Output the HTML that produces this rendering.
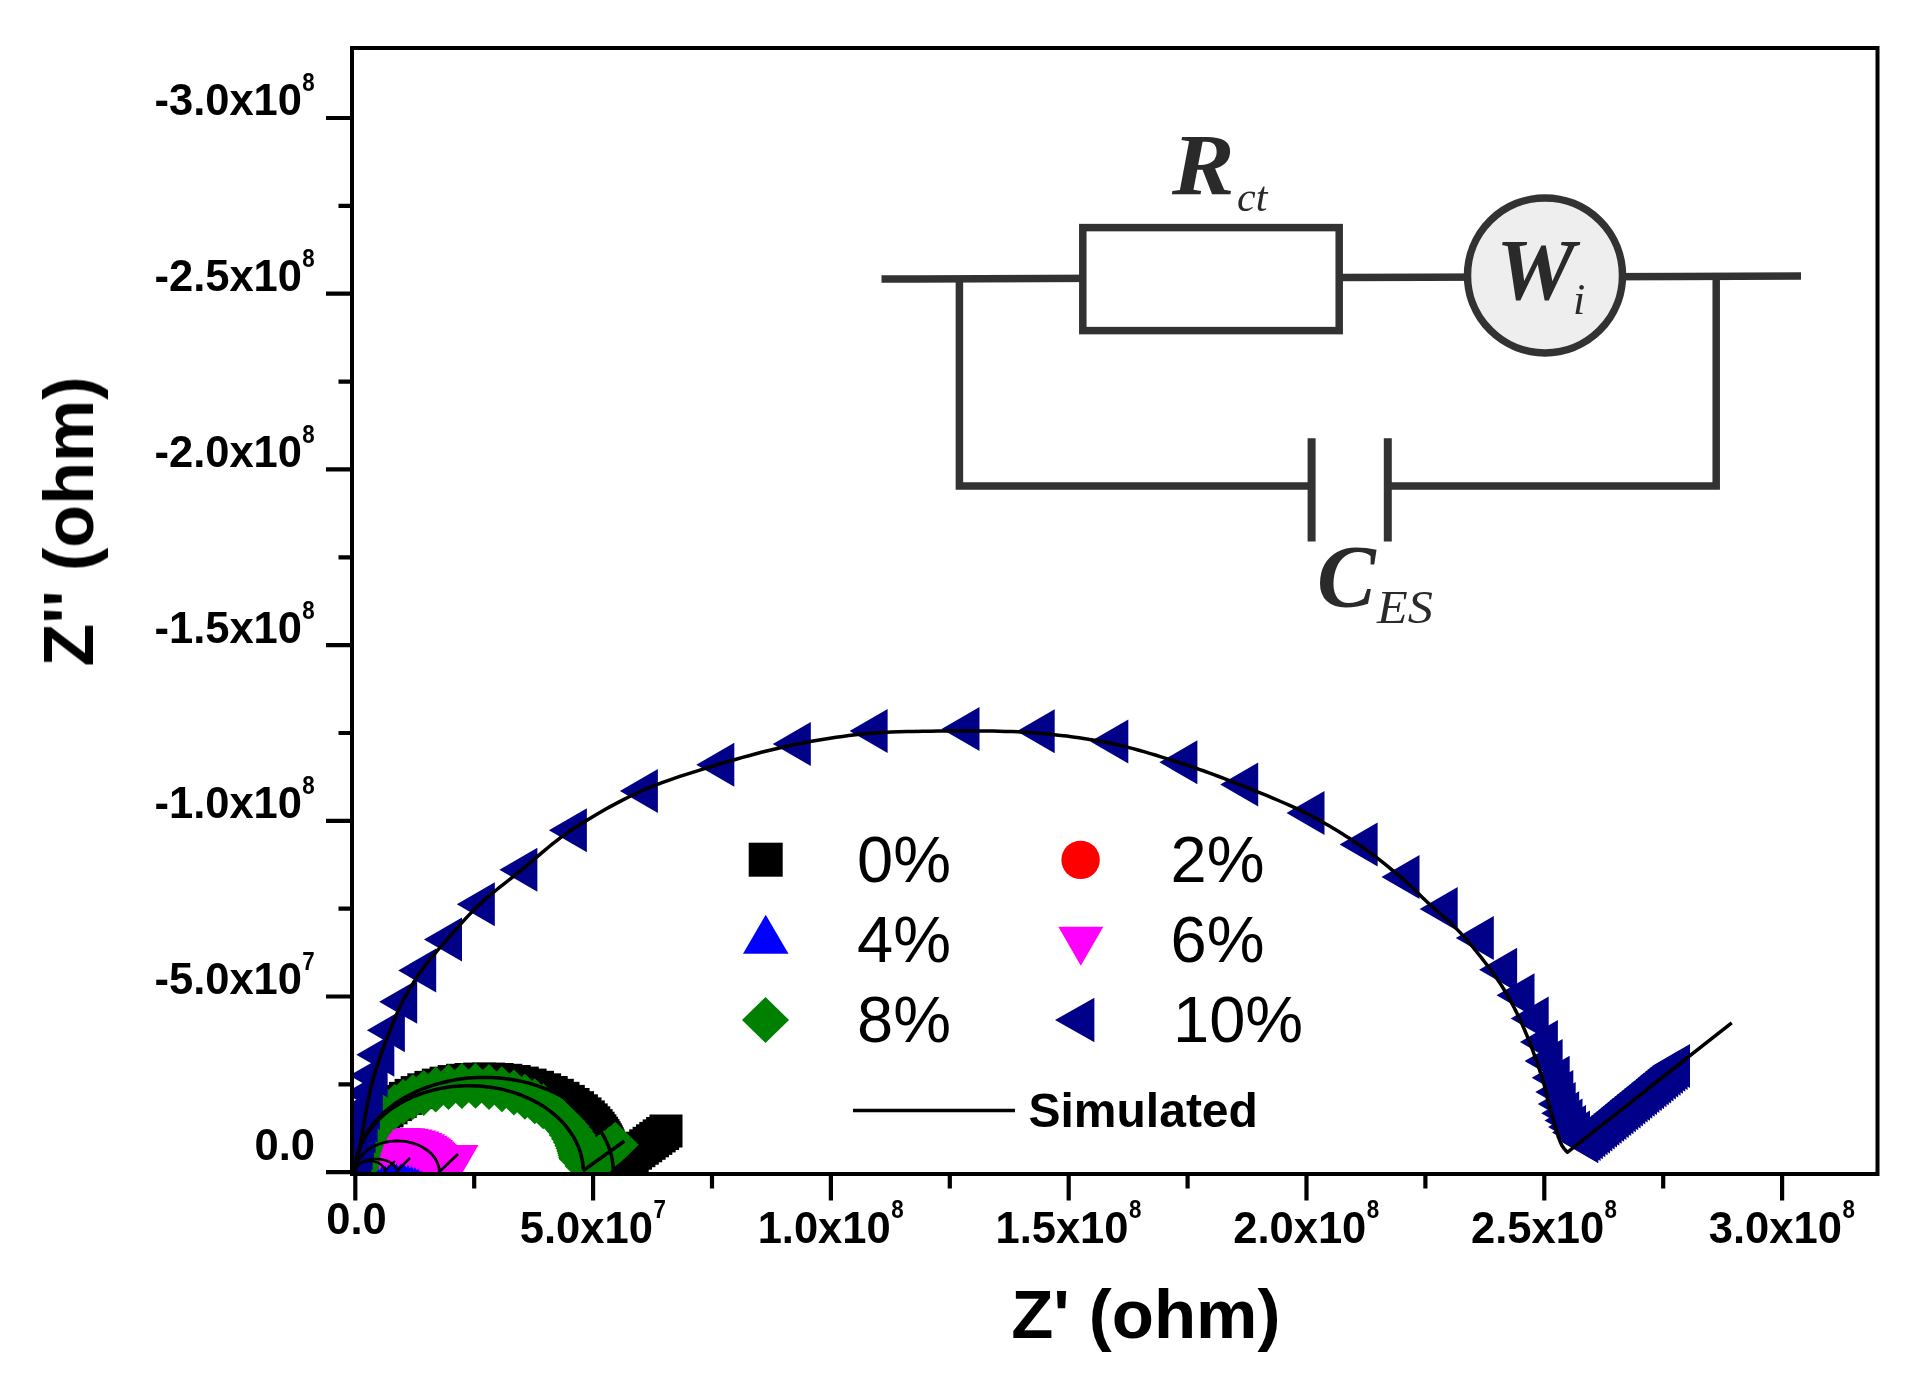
<!DOCTYPE html><html><head><meta charset="utf-8"><title>Nyquist plot</title><style>html,body{margin:0;padding:0;background:#fff}svg{display:block}</style></head><body><svg width="1923" height="1391" viewBox="0 0 1923 1391">
<defs><clipPath id="pc"><rect x="352" y="48" width="1525.5" height="1126"/></clipPath><filter id="soft" x="0" y="0" width="100%" height="100%" filterUnits="userSpaceOnUse"><feGaussianBlur stdDeviation="0.75"/></filter></defs>
<rect width="1923" height="1391" fill="#fff"/>
<g filter="url(#soft)">
<g clip-path="url(#pc)">
<g><rect x="338.9" y="1152.4" width="33" height="33" fill="#000"/><rect x="338.9" y="1152.2" width="33" height="33" fill="#000"/><rect x="338.9" y="1152.0" width="33" height="33" fill="#000"/><rect x="338.9" y="1151.7" width="33" height="33" fill="#000"/><rect x="338.9" y="1151.4" width="33" height="33" fill="#000"/><rect x="338.9" y="1151.2" width="33" height="33" fill="#000"/><rect x="339.0" y="1150.9" width="33" height="33" fill="#000"/><rect x="339.0" y="1150.5" width="33" height="33" fill="#000"/><rect x="339.0" y="1150.2" width="33" height="33" fill="#000"/><rect x="339.0" y="1149.8" width="33" height="33" fill="#000"/><rect x="339.1" y="1149.4" width="33" height="33" fill="#000"/><rect x="339.1" y="1149.0" width="33" height="33" fill="#000"/><rect x="339.2" y="1148.5" width="33" height="33" fill="#000"/><rect x="339.2" y="1148.0" width="33" height="33" fill="#000"/><rect x="339.3" y="1147.5" width="33" height="33" fill="#000"/><rect x="339.3" y="1147.0" width="33" height="33" fill="#000"/><rect x="339.4" y="1146.4" width="33" height="33" fill="#000"/><rect x="339.5" y="1145.7" width="33" height="33" fill="#000"/><rect x="339.6" y="1145.1" width="33" height="33" fill="#000"/><rect x="339.7" y="1144.3" width="33" height="33" fill="#000"/><rect x="339.9" y="1143.6" width="33" height="33" fill="#000"/><rect x="340.0" y="1142.7" width="33" height="33" fill="#000"/><rect x="340.2" y="1141.8" width="33" height="33" fill="#000"/><rect x="340.4" y="1140.9" width="33" height="33" fill="#000"/><rect x="340.6" y="1139.9" width="33" height="33" fill="#000"/><rect x="340.9" y="1138.8" width="33" height="33" fill="#000"/><rect x="341.2" y="1137.7" width="33" height="33" fill="#000"/><rect x="341.5" y="1136.4" width="33" height="33" fill="#000"/><rect x="341.9" y="1135.1" width="33" height="33" fill="#000"/><rect x="342.4" y="1133.8" width="33" height="33" fill="#000"/><rect x="342.9" y="1132.3" width="33" height="33" fill="#000"/><rect x="343.5" y="1130.7" width="33" height="33" fill="#000"/><rect x="344.1" y="1129.0" width="33" height="33" fill="#000"/><rect x="344.9" y="1127.3" width="33" height="33" fill="#000"/><rect x="345.7" y="1125.4" width="33" height="33" fill="#000"/><rect x="346.7" y="1123.4" width="33" height="33" fill="#000"/><rect x="347.8" y="1121.3" width="33" height="33" fill="#000"/><rect x="349.1" y="1119.1" width="33" height="33" fill="#000"/><rect x="350.5" y="1116.8" width="33" height="33" fill="#000"/><rect x="352.1" y="1114.4" width="33" height="33" fill="#000"/><rect x="353.9" y="1111.8" width="33" height="33" fill="#000"/><rect x="356.0" y="1109.1" width="33" height="33" fill="#000"/><rect x="358.3" y="1106.4" width="33" height="33" fill="#000"/><rect x="360.9" y="1103.5" width="33" height="33" fill="#000"/><rect x="363.7" y="1100.5" width="33" height="33" fill="#000"/><rect x="367.0" y="1097.5" width="33" height="33" fill="#000"/><rect x="370.5" y="1094.4" width="33" height="33" fill="#000"/><rect x="374.5" y="1091.3" width="33" height="33" fill="#000"/><rect x="378.9" y="1088.1" width="33" height="33" fill="#000"/><rect x="383.7" y="1085.0" width="33" height="33" fill="#000"/><rect x="388.9" y="1081.9" width="33" height="33" fill="#000"/><rect x="394.6" y="1078.9" width="33" height="33" fill="#000"/><rect x="400.7" y="1076.1" width="33" height="33" fill="#000"/><rect x="407.3" y="1073.3" width="33" height="33" fill="#000"/><rect x="414.4" y="1070.9" width="33" height="33" fill="#000"/><rect x="421.8" y="1068.6" width="33" height="33" fill="#000"/><rect x="429.6" y="1066.7" width="33" height="33" fill="#000"/><rect x="437.7" y="1065.1" width="33" height="33" fill="#000"/><rect x="446.1" y="1063.8" width="33" height="33" fill="#000"/><rect x="454.6" y="1063.0" width="33" height="33" fill="#000"/><rect x="463.3" y="1062.6" width="33" height="33" fill="#000"/><rect x="472.0" y="1062.6" width="33" height="33" fill="#000"/><rect x="480.7" y="1063.0" width="33" height="33" fill="#000"/><rect x="489.3" y="1063.8" width="33" height="33" fill="#000"/><rect x="497.7" y="1065.0" width="33" height="33" fill="#000"/><rect x="505.8" y="1066.6" width="33" height="33" fill="#000"/><rect x="513.6" y="1068.6" width="33" height="33" fill="#000"/><rect x="521.0" y="1070.8" width="33" height="33" fill="#000"/><rect x="528.1" y="1073.3" width="33" height="33" fill="#000"/><rect x="534.7" y="1076.0" width="33" height="33" fill="#000"/><rect x="540.8" y="1078.8" width="33" height="33" fill="#000"/><rect x="546.5" y="1081.8" width="33" height="33" fill="#000"/><rect x="551.8" y="1084.9" width="33" height="33" fill="#000"/><rect x="556.6" y="1088.0" width="33" height="33" fill="#000"/><rect x="561.0" y="1091.2" width="33" height="33" fill="#000"/><rect x="564.9" y="1094.3" width="33" height="33" fill="#000"/><rect x="568.5" y="1097.4" width="33" height="33" fill="#000"/><rect x="571.8" y="1100.4" width="33" height="33" fill="#000"/><rect x="574.7" y="1103.4" width="33" height="33" fill="#000"/><rect x="577.3" y="1106.3" width="33" height="33" fill="#000"/><rect x="579.6" y="1109.1" width="33" height="33" fill="#000"/><rect x="581.6" y="1111.7" width="33" height="33" fill="#000"/><rect x="583.4" y="1114.3" width="33" height="33" fill="#000"/><rect x="585.1" y="1116.7" width="33" height="33" fill="#000"/><rect x="586.5" y="1119.1" width="33" height="33" fill="#000"/><rect x="587.7" y="1121.3" width="33" height="33" fill="#000"/><rect x="588.9" y="1123.4" width="33" height="33" fill="#000"/><rect x="589.8" y="1125.3" width="33" height="33" fill="#000"/><rect x="590.7" y="1127.2" width="33" height="33" fill="#000"/><rect x="591.4" y="1129.0" width="33" height="33" fill="#000"/><rect x="592.1" y="1130.7" width="33" height="33" fill="#000"/><rect x="592.7" y="1132.2" width="33" height="33" fill="#000"/><rect x="593.2" y="1133.7" width="33" height="33" fill="#000"/><rect x="593.7" y="1135.1" width="33" height="33" fill="#000"/><rect x="594.1" y="1136.4" width="33" height="33" fill="#000"/><rect x="594.4" y="1137.6" width="33" height="33" fill="#000"/><rect x="594.7" y="1138.8" width="33" height="33" fill="#000"/><rect x="605.5" y="1146.5" width="33" height="33" fill="#000"/><rect x="608.9" y="1144.0" width="33" height="33" fill="#000"/><rect x="612.3" y="1141.6" width="33" height="33" fill="#000"/><rect x="615.7" y="1139.1" width="33" height="33" fill="#000"/><rect x="619.0" y="1136.7" width="33" height="33" fill="#000"/><rect x="622.4" y="1134.2" width="33" height="33" fill="#000"/><rect x="625.8" y="1131.7" width="33" height="33" fill="#000"/><rect x="629.2" y="1129.3" width="33" height="33" fill="#000"/><rect x="632.6" y="1126.8" width="33" height="33" fill="#000"/><rect x="636.0" y="1124.3" width="33" height="33" fill="#000"/><rect x="639.3" y="1121.9" width="33" height="33" fill="#000"/><rect x="642.7" y="1119.4" width="33" height="33" fill="#000"/><rect x="646.1" y="1117.0" width="33" height="33" fill="#000"/><rect x="649.5" y="1114.5" width="33" height="33" fill="#000"/></g>
<g><circle cx="355.0" cy="1171.8" r="19" fill="#f00"/><circle cx="355.0" cy="1171.7" r="19" fill="#f00"/><circle cx="355.0" cy="1171.7" r="19" fill="#f00"/><circle cx="355.0" cy="1171.6" r="19" fill="#f00"/><circle cx="355.1" cy="1171.4" r="19" fill="#f00"/><circle cx="355.1" cy="1171.3" r="19" fill="#f00"/><circle cx="355.2" cy="1171.0" r="19" fill="#f00"/><circle cx="355.3" cy="1170.8" r="19" fill="#f00"/><circle cx="355.5" cy="1170.4" r="19" fill="#f00"/><circle cx="355.8" cy="1170.0" r="19" fill="#f00"/><circle cx="356.3" cy="1169.5" r="19" fill="#f00"/><circle cx="357.0" cy="1169.0" r="19" fill="#f00"/><circle cx="358.0" cy="1168.5" r="19" fill="#f00"/><circle cx="359.4" cy="1168.1" r="19" fill="#f00"/><circle cx="360.9" cy="1168.0" r="19" fill="#f00"/><circle cx="362.5" cy="1168.1" r="19" fill="#f00"/><circle cx="363.8" cy="1168.5" r="19" fill="#f00"/><circle cx="364.9" cy="1169.0" r="19" fill="#f00"/><circle cx="365.7" cy="1169.5" r="19" fill="#f00"/><circle cx="366.2" cy="1170.0" r="19" fill="#f00"/><circle cx="366.5" cy="1170.4" r="19" fill="#f00"/><circle cx="366.7" cy="1170.7" r="19" fill="#f00"/><circle cx="366.8" cy="1171.0" r="19" fill="#f00"/><circle cx="367.0" cy="1171.0" r="19" fill="#f00"/><circle cx="368.5" cy="1169.5" r="19" fill="#f00"/><circle cx="370.0" cy="1168.0" r="19" fill="#f00"/></g>
<g><path d="M332.3 1184.7L377.8 1184.7L355.0 1145.7Z" fill="#00f"/><path d="M332.3 1184.6L377.8 1184.6L355.0 1145.6Z" fill="#00f"/><path d="M332.3 1184.6L377.8 1184.6L355.1 1145.6Z" fill="#00f"/><path d="M332.3 1184.5L377.8 1184.5L355.1 1145.5Z" fill="#00f"/><path d="M332.3 1184.5L377.8 1184.5L355.1 1145.5Z" fill="#00f"/><path d="M332.3 1184.4L377.8 1184.4L355.1 1145.4Z" fill="#00f"/><path d="M332.4 1184.4L377.9 1184.4L355.1 1145.4Z" fill="#00f"/><path d="M332.4 1184.3L377.9 1184.3L355.1 1145.3Z" fill="#00f"/><path d="M332.4 1184.3L377.9 1184.3L355.2 1145.3Z" fill="#00f"/><path d="M332.5 1184.2L378.0 1184.2L355.2 1145.2Z" fill="#00f"/><path d="M332.5 1184.1L378.0 1184.1L355.2 1145.1Z" fill="#00f"/><path d="M332.5 1184.0L378.0 1184.0L355.3 1145.0Z" fill="#00f"/><path d="M332.6 1183.9L378.1 1183.9L355.4 1144.9Z" fill="#00f"/><path d="M332.7 1183.8L378.2 1183.8L355.4 1144.8Z" fill="#00f"/><path d="M332.8 1183.7L378.3 1183.7L355.5 1144.7Z" fill="#00f"/><path d="M332.9 1183.6L378.4 1183.6L355.6 1144.6Z" fill="#00f"/><path d="M333.0 1183.4L378.5 1183.4L355.8 1144.4Z" fill="#00f"/><path d="M333.2 1183.3L378.7 1183.3L355.9 1144.3Z" fill="#00f"/><path d="M333.3 1183.1L378.8 1183.1L356.1 1144.1Z" fill="#00f"/><path d="M333.6 1182.9L379.1 1182.9L356.3 1143.9Z" fill="#00f"/><path d="M333.8 1182.7L379.3 1182.7L356.6 1143.7Z" fill="#00f"/><path d="M334.2 1182.5L379.7 1182.5L356.9 1143.5Z" fill="#00f"/><path d="M334.6 1182.3L380.1 1182.3L357.3 1143.3Z" fill="#00f"/><path d="M335.0 1182.0L380.5 1182.0L357.8 1143.0Z" fill="#00f"/><path d="M335.6 1181.7L381.1 1181.7L358.3 1142.7Z" fill="#00f"/><path d="M336.2 1181.5L381.7 1181.5L359.0 1142.5Z" fill="#00f"/><path d="M337.0 1181.2L382.5 1181.2L359.7 1142.2Z" fill="#00f"/><path d="M337.9 1180.9L383.4 1180.9L360.6 1141.9Z" fill="#00f"/><path d="M338.9 1180.5L384.4 1180.5L361.7 1141.5Z" fill="#00f"/><path d="M340.1 1180.2L385.6 1180.2L362.9 1141.2Z" fill="#00f"/><path d="M341.5 1179.9L387.0 1179.9L364.3 1140.9Z" fill="#00f"/><path d="M343.1 1179.5L388.6 1179.5L365.9 1140.5Z" fill="#00f"/><path d="M344.9 1179.2L390.4 1179.2L367.6 1140.2Z" fill="#00f"/><path d="M346.9 1178.9L392.4 1178.9L369.6 1139.9Z" fill="#00f"/><path d="M349.1 1178.6L394.6 1178.6L371.8 1139.6Z" fill="#00f"/><path d="M351.4 1178.4L396.9 1178.4L374.2 1139.4Z" fill="#00f"/><path d="M353.9 1178.2L399.4 1178.2L376.7 1139.2Z" fill="#00f"/><path d="M356.6 1178.1L402.1 1178.1L379.3 1139.1Z" fill="#00f"/><path d="M359.3 1178.0L404.8 1178.0L382.1 1139.0Z" fill="#00f"/><path d="M362.1 1178.0L407.6 1178.0L384.8 1139.0Z" fill="#00f"/><path d="M364.8 1178.1L410.3 1178.1L387.6 1139.1Z" fill="#00f"/><path d="M367.5 1178.2L413.0 1178.2L390.2 1139.2Z" fill="#00f"/><path d="M370.1 1178.3L415.6 1178.3L392.8 1139.3Z" fill="#00f"/><path d="M372.5 1178.5L418.0 1178.5L395.3 1139.5Z" fill="#00f"/><path d="M374.8 1178.8L420.3 1178.8L397.5 1139.8Z" fill="#00f"/><path d="M376.8 1179.1L422.3 1179.1L399.6 1140.1Z" fill="#00f"/><path d="M378.7 1179.4L424.2 1179.4L401.4 1140.4Z" fill="#00f"/><path d="M380.4 1179.7L425.9 1179.7L403.1 1140.7Z" fill="#00f"/><path d="M381.8 1180.1L427.3 1180.1L404.6 1141.1Z" fill="#00f"/><path d="M383.1 1180.4L428.6 1180.4L405.9 1141.4Z" fill="#00f"/><path d="M384.2 1180.7L429.7 1180.7L407.0 1141.7Z" fill="#00f"/><path d="M385.2 1181.0L430.7 1181.0L407.9 1142.0Z" fill="#00f"/><path d="M386.0 1181.3L431.5 1181.3L408.7 1142.3Z" fill="#00f"/><path d="M386.7 1181.6L432.2 1181.6L409.4 1142.6Z" fill="#00f"/><path d="M387.3 1181.9L432.8 1181.9L410.0 1142.9Z" fill="#00f"/><path d="M387.8 1182.2L433.3 1182.2L410.5 1143.2Z" fill="#00f"/><path d="M388.2 1182.4L433.7 1182.4L410.9 1143.4Z" fill="#00f"/><path d="M388.5 1182.6L434.0 1182.6L411.3 1143.6Z" fill="#00f"/><path d="M388.8 1182.8L434.3 1182.8L411.6 1143.8Z" fill="#00f"/><path d="M389.1 1183.0L434.6 1183.0L411.8 1144.0Z" fill="#00f"/><path d="M389.3 1183.2L434.8 1183.2L412.0 1144.2Z" fill="#00f"/><path d="M389.4 1183.4L434.9 1183.4L412.2 1144.4Z" fill="#00f"/><path d="M389.6 1183.5L435.1 1183.5L412.3 1144.5Z" fill="#00f"/><path d="M390.2 1184.0L435.8 1184.0L413.0 1145.0Z" fill="#00f"/><path d="M393.2 1182.3L438.8 1182.3L416.0 1143.3Z" fill="#00f"/><path d="M396.2 1180.7L441.8 1180.7L419.0 1141.7Z" fill="#00f"/><path d="M399.2 1179.0L444.8 1179.0L422.0 1140.0Z" fill="#00f"/></g>
<g><path d="M332.9 1157.5L377.9 1157.5L355.4 1196.5Z" fill="#f0f"/><path d="M332.9 1157.3L377.9 1157.3L355.4 1196.3Z" fill="#f0f"/><path d="M332.9 1157.1L377.9 1157.1L355.4 1196.1Z" fill="#f0f"/><path d="M332.9 1156.9L377.9 1156.9L355.4 1195.9Z" fill="#f0f"/><path d="M332.9 1156.7L377.9 1156.7L355.4 1195.7Z" fill="#f0f"/><path d="M332.9 1156.5L377.9 1156.5L355.4 1195.5Z" fill="#f0f"/><path d="M333.0 1156.3L378.0 1156.3L355.5 1195.3Z" fill="#f0f"/><path d="M333.0 1156.0L378.0 1156.0L355.5 1195.0Z" fill="#f0f"/><path d="M333.0 1155.7L378.0 1155.7L355.5 1194.7Z" fill="#f0f"/><path d="M333.1 1155.4L378.1 1155.4L355.6 1194.4Z" fill="#f0f"/><path d="M333.2 1155.0L378.2 1155.0L355.7 1194.0Z" fill="#f0f"/><path d="M333.2 1154.6L378.2 1154.6L355.7 1193.6Z" fill="#f0f"/><path d="M333.3 1154.2L378.3 1154.2L355.8 1193.2Z" fill="#f0f"/><path d="M333.4 1153.7L378.4 1153.7L355.9 1192.7Z" fill="#f0f"/><path d="M333.6 1153.2L378.6 1153.2L356.1 1192.2Z" fill="#f0f"/><path d="M333.7 1152.6L378.7 1152.6L356.2 1191.6Z" fill="#f0f"/><path d="M333.9 1152.0L378.9 1152.0L356.4 1191.0Z" fill="#f0f"/><path d="M334.1 1151.3L379.1 1151.3L356.6 1190.3Z" fill="#f0f"/><path d="M334.4 1150.5L379.4 1150.5L356.9 1189.5Z" fill="#f0f"/><path d="M334.7 1149.7L379.7 1149.7L357.2 1188.7Z" fill="#f0f"/><path d="M335.1 1148.9L380.1 1148.9L357.6 1187.9Z" fill="#f0f"/><path d="M335.6 1147.9L380.6 1147.9L358.1 1186.9Z" fill="#f0f"/><path d="M336.1 1146.9L381.1 1146.9L358.6 1185.9Z" fill="#f0f"/><path d="M336.8 1145.8L381.8 1145.8L359.3 1184.8Z" fill="#f0f"/><path d="M337.6 1144.6L382.6 1144.6L360.1 1183.6Z" fill="#f0f"/><path d="M338.5 1143.4L383.5 1143.4L361.0 1182.4Z" fill="#f0f"/><path d="M339.6 1142.0L384.6 1142.0L362.1 1181.0Z" fill="#f0f"/><path d="M340.9 1140.7L385.9 1140.7L363.4 1179.7Z" fill="#f0f"/><path d="M342.5 1139.2L387.5 1139.2L365.0 1178.2Z" fill="#f0f"/><path d="M344.2 1137.8L389.2 1137.8L366.7 1176.8Z" fill="#f0f"/><path d="M346.2 1136.3L391.2 1136.3L368.7 1175.3Z" fill="#f0f"/><path d="M348.5 1134.8L393.5 1134.8L371.0 1173.8Z" fill="#f0f"/><path d="M351.1 1133.4L396.1 1133.4L373.6 1172.4Z" fill="#f0f"/><path d="M354.0 1132.1L399.0 1132.1L376.5 1171.1Z" fill="#f0f"/><path d="M357.1 1130.9L402.1 1130.9L379.6 1169.9Z" fill="#f0f"/><path d="M360.6 1129.8L405.6 1129.8L383.1 1168.8Z" fill="#f0f"/><path d="M364.2 1129.0L409.2 1129.0L386.7 1168.0Z" fill="#f0f"/><path d="M368.0 1128.4L413.0 1128.4L390.5 1167.4Z" fill="#f0f"/><path d="M372.0 1128.1L417.0 1128.1L394.5 1167.1Z" fill="#f0f"/><path d="M376.0 1128.0L421.0 1128.0L398.5 1167.0Z" fill="#f0f"/><path d="M380.0 1128.2L425.0 1128.2L402.5 1167.2Z" fill="#f0f"/><path d="M383.8 1128.7L428.8 1128.7L406.3 1167.7Z" fill="#f0f"/><path d="M387.6 1129.5L432.6 1129.5L410.1 1168.5Z" fill="#f0f"/><path d="M391.1 1130.4L436.1 1130.4L413.6 1169.4Z" fill="#f0f"/><path d="M394.4 1131.6L439.4 1131.6L416.9 1170.6Z" fill="#f0f"/><path d="M397.4 1132.9L442.4 1132.9L419.9 1171.9Z" fill="#f0f"/><path d="M400.1 1134.2L445.1 1134.2L422.6 1173.2Z" fill="#f0f"/><path d="M402.5 1135.7L447.5 1135.7L425.0 1174.7Z" fill="#f0f"/><path d="M404.6 1137.2L449.6 1137.2L427.1 1176.2Z" fill="#f0f"/><path d="M406.5 1138.6L451.5 1138.6L429.0 1177.6Z" fill="#f0f"/><path d="M408.1 1140.1L453.1 1140.1L430.6 1179.1Z" fill="#f0f"/><path d="M409.4 1141.5L454.4 1141.5L431.9 1180.5Z" fill="#f0f"/><path d="M410.6 1142.8L455.6 1142.8L433.1 1181.8Z" fill="#f0f"/><path d="M411.6 1144.1L456.6 1144.1L434.1 1183.1Z" fill="#f0f"/><path d="M412.5 1145.3L457.5 1145.3L435.0 1184.3Z" fill="#f0f"/><path d="M413.2 1146.4L458.2 1146.4L435.7 1185.4Z" fill="#f0f"/><path d="M413.8 1147.5L458.8 1147.5L436.3 1186.5Z" fill="#f0f"/><path d="M414.3 1148.5L459.3 1148.5L436.8 1187.5Z" fill="#f0f"/><path d="M414.7 1149.4L459.7 1149.4L437.2 1188.4Z" fill="#f0f"/><path d="M415.1 1150.2L460.1 1150.2L437.6 1189.2Z" fill="#f0f"/><path d="M415.4 1151.0L460.4 1151.0L437.9 1190.0Z" fill="#f0f"/><path d="M415.6 1151.7L460.6 1151.7L438.1 1190.7Z" fill="#f0f"/><path d="M415.8 1152.3L460.8 1152.3L438.3 1191.3Z" fill="#f0f"/><path d="M417.5 1159.0L462.5 1159.0L440.0 1198.0Z" fill="#f0f"/><path d="M419.8 1157.0L464.8 1157.0L442.3 1196.0Z" fill="#f0f"/><path d="M422.1 1155.0L467.1 1155.0L444.6 1194.0Z" fill="#f0f"/><path d="M424.4 1153.0L469.4 1153.0L446.9 1192.0Z" fill="#f0f"/><path d="M426.6 1151.0L471.6 1151.0L449.1 1190.0Z" fill="#f0f"/><path d="M428.9 1149.0L473.9 1149.0L451.4 1188.0Z" fill="#f0f"/><path d="M431.2 1147.0L476.2 1147.0L453.7 1186.0Z" fill="#f0f"/><path d="M433.5 1145.0L478.5 1145.0L456.0 1184.0Z" fill="#f0f"/></g>
<g><path d="M331.9 1169.2L355.4 1146.2L378.9 1169.2L355.4 1192.2Z" fill="#008000"/><path d="M331.9 1168.9L355.4 1145.9L378.9 1168.9L355.4 1191.9Z" fill="#008000"/><path d="M331.9 1168.5L355.4 1145.5L378.9 1168.5L355.4 1191.5Z" fill="#008000"/><path d="M331.9 1168.0L355.4 1145.0L378.9 1168.0L355.4 1191.0Z" fill="#008000"/><path d="M332.0 1167.5L355.5 1144.5L379.0 1167.5L355.5 1190.5Z" fill="#008000"/><path d="M332.0 1167.0L355.5 1144.0L379.0 1167.0L355.5 1190.0Z" fill="#008000"/><path d="M332.0 1166.3L355.5 1143.3L379.0 1166.3L355.5 1189.3Z" fill="#008000"/><path d="M332.1 1165.6L355.6 1142.6L379.1 1165.6L355.6 1188.6Z" fill="#008000"/><path d="M332.2 1164.8L355.7 1141.8L379.2 1164.8L355.7 1187.8Z" fill="#008000"/><path d="M332.3 1163.9L355.8 1140.9L379.3 1163.9L355.8 1186.9Z" fill="#008000"/><path d="M332.4 1162.8L355.9 1139.8L379.4 1162.8L355.9 1185.8Z" fill="#008000"/><path d="M332.6 1161.7L356.1 1138.7L379.6 1161.7L356.1 1184.7Z" fill="#008000"/><path d="M332.8 1160.4L356.3 1137.4L379.8 1160.4L356.3 1183.4Z" fill="#008000"/><path d="M333.1 1158.9L356.6 1135.9L380.1 1158.9L356.6 1181.9Z" fill="#008000"/><path d="M333.5 1157.3L357.0 1134.3L380.5 1157.3L357.0 1180.3Z" fill="#008000"/><path d="M333.9 1155.5L357.4 1132.5L380.9 1155.5L357.4 1178.5Z" fill="#008000"/><path d="M334.5 1153.4L358.0 1130.4L381.5 1153.4L358.0 1176.4Z" fill="#008000"/><path d="M335.2 1151.1L358.7 1128.1L382.2 1151.1L358.7 1174.1Z" fill="#008000"/><path d="M336.1 1148.6L359.6 1125.6L383.1 1148.6L359.6 1171.6Z" fill="#008000"/><path d="M337.2 1145.7L360.7 1122.7L384.2 1145.7L360.7 1168.7Z" fill="#008000"/><path d="M338.6 1142.6L362.1 1119.6L385.6 1142.6L362.1 1165.6Z" fill="#008000"/><path d="M340.4 1139.1L363.9 1116.1L387.4 1139.1L363.9 1162.1Z" fill="#008000"/><path d="M342.6 1135.3L366.1 1112.3L389.6 1135.3L366.1 1158.3Z" fill="#008000"/><path d="M345.4 1131.2L368.9 1108.2L392.4 1131.2L368.9 1154.2Z" fill="#008000"/><path d="M348.8 1126.7L372.3 1103.7L395.8 1126.7L372.3 1149.7Z" fill="#008000"/><path d="M352.9 1122.0L376.4 1099.0L399.9 1122.0L376.4 1145.0Z" fill="#008000"/><path d="M358.0 1117.0L381.5 1094.0L405.0 1117.0L381.5 1140.0Z" fill="#008000"/><path d="M364.0 1111.9L387.5 1088.9L411.0 1111.9L387.5 1134.9Z" fill="#008000"/><path d="M371.3 1106.7L394.8 1083.7L418.3 1106.7L394.8 1129.7Z" fill="#008000"/><path d="M379.7 1101.7L403.2 1078.7L426.7 1101.7L403.2 1124.7Z" fill="#008000"/><path d="M389.3 1097.0L412.8 1074.0L436.3 1097.0L412.8 1120.0Z" fill="#008000"/><path d="M400.2 1092.9L423.7 1069.9L447.2 1092.9L423.7 1115.9Z" fill="#008000"/><path d="M412.2 1089.5L435.7 1066.5L459.2 1089.5L435.7 1112.5Z" fill="#008000"/><path d="M425.0 1087.1L448.5 1064.1L472.0 1087.1L448.5 1110.1Z" fill="#008000"/><path d="M438.4 1085.9L461.9 1062.9L485.4 1085.9L461.9 1108.9Z" fill="#008000"/><path d="M452.0 1085.8L475.5 1062.8L499.0 1085.8L475.5 1108.8Z" fill="#008000"/><path d="M465.5 1087.0L489.0 1064.0L512.5 1087.0L489.0 1110.0Z" fill="#008000"/><path d="M478.4 1089.3L501.9 1066.3L525.4 1089.3L501.9 1112.3Z" fill="#008000"/><path d="M490.4 1092.6L513.9 1069.6L537.4 1092.6L513.9 1115.6Z" fill="#008000"/><path d="M501.4 1096.7L524.9 1073.7L548.4 1096.7L524.9 1119.7Z" fill="#008000"/><path d="M511.2 1101.3L534.7 1078.3L558.2 1101.3L534.7 1124.3Z" fill="#008000"/><path d="M519.7 1106.3L543.2 1083.3L566.7 1106.3L543.2 1129.3Z" fill="#008000"/><path d="M527.0 1111.4L550.5 1088.4L574.0 1111.4L550.5 1134.4Z" fill="#008000"/><path d="M533.2 1116.6L556.7 1093.6L580.2 1116.6L556.7 1139.6Z" fill="#008000"/><path d="M538.3 1121.5L561.8 1098.5L585.3 1121.5L561.8 1144.5Z" fill="#008000"/><path d="M542.5 1126.3L566.0 1103.3L589.5 1126.3L566.0 1149.3Z" fill="#008000"/><path d="M546.0 1130.8L569.5 1107.8L593.0 1130.8L569.5 1153.8Z" fill="#008000"/><path d="M548.8 1135.0L572.3 1112.0L595.8 1135.0L572.3 1158.0Z" fill="#008000"/><path d="M551.0 1138.8L574.5 1115.8L598.0 1138.8L574.5 1161.8Z" fill="#008000"/><path d="M552.8 1142.3L576.3 1119.3L599.8 1142.3L576.3 1165.3Z" fill="#008000"/><path d="M554.3 1145.5L577.8 1122.5L601.3 1145.5L577.8 1168.5Z" fill="#008000"/><path d="M555.4 1148.3L578.9 1125.3L602.4 1148.3L578.9 1171.3Z" fill="#008000"/><path d="M556.3 1150.9L579.8 1127.9L603.3 1150.9L579.8 1173.9Z" fill="#008000"/><path d="M557.1 1153.2L580.6 1130.2L604.1 1153.2L580.6 1176.2Z" fill="#008000"/><path d="M557.6 1155.3L581.1 1132.3L604.6 1155.3L581.1 1178.3Z" fill="#008000"/><path d="M558.1 1157.2L581.6 1134.2L605.1 1157.2L581.6 1180.2Z" fill="#008000"/><path d="M558.5 1158.8L582.0 1135.8L605.5 1158.8L582.0 1181.8Z" fill="#008000"/><path d="M564.5 1166.0L588.0 1143.0L611.5 1166.0L588.0 1189.0Z" fill="#008000"/><path d="M569.9 1161.8L593.4 1138.8L616.9 1161.8L593.4 1184.8Z" fill="#008000"/><path d="M575.4 1157.5L598.9 1134.5L622.4 1157.5L598.9 1180.5Z" fill="#008000"/><path d="M580.8 1153.3L604.3 1130.3L627.8 1153.3L604.3 1176.3Z" fill="#008000"/><path d="M586.3 1149.0L609.8 1126.0L633.3 1149.0L609.8 1172.0Z" fill="#008000"/><path d="M591.7 1144.8L615.2 1121.8L638.7 1144.8L615.2 1167.8Z" fill="#008000"/></g>
<g><path d="M941.5 729.1L979.5 707.1L979.5 751.1Z" fill="#000088"/><path d="M849.6 731.0L887.6 709.0L887.6 753.0Z" fill="#000088"/><path d="M772.8 744.1L810.8 722.1L810.8 766.1Z" fill="#000088"/><path d="M696.3 764.8L734.3 742.8L734.3 786.8Z" fill="#000088"/><path d="M619.9 791.0L657.9 769.0L657.9 813.0Z" fill="#000088"/><path d="M548.9 830.3L586.9 808.3L586.9 852.3Z" fill="#000088"/><path d="M499.4 869.7L537.4 847.7L537.4 891.7Z" fill="#000088"/><path d="M456.8 904.2L494.8 882.2L494.8 926.2Z" fill="#000088"/><path d="M424.0 939.6L462.0 917.6L462.0 961.6Z" fill="#000088"/><path d="M398.2 970.5L436.2 948.5L436.2 992.5Z" fill="#000088"/><path d="M379.2 1001.8L417.2 979.8L417.2 1023.8Z" fill="#000088"/><path d="M366.9 1030.2L404.9 1008.2L404.9 1052.2Z" fill="#000088"/><path d="M1016.7 731.3L1054.7 709.3L1054.7 753.3Z" fill="#000088"/><path d="M1090.3 741.5L1128.3 719.5L1128.3 763.5Z" fill="#000088"/><path d="M1159.4 762.3L1197.4 740.3L1197.4 784.3Z" fill="#000088"/><path d="M1220.2 784.5L1258.2 762.5L1258.2 806.5Z" fill="#000088"/><path d="M1286.5 812.9L1324.5 790.9L1324.5 834.9Z" fill="#000088"/><path d="M1339.6 844.5L1377.6 822.5L1377.6 866.5Z" fill="#000088"/><path d="M1381.5 876.9L1419.5 854.9L1419.5 898.9Z" fill="#000088"/><path d="M1419.7 909.0L1457.7 887.0L1457.7 931.0Z" fill="#000088"/><path d="M1455.8 938.1L1493.8 916.1L1493.8 960.1Z" fill="#000088"/><path d="M1479.1 969.8L1517.1 947.8L1517.1 991.8Z" fill="#000088"/><path d="M1496.5 995.3L1534.5 973.3L1534.5 1017.3Z" fill="#000088"/><path d="M1510.7 1018.5L1548.7 996.5L1548.7 1040.5Z" fill="#000088"/><path d="M356.3 1054.7L394.3 1032.7L394.3 1076.7Z" fill="#000088"/><path d="M349.6 1075.5L387.6 1053.5L387.6 1097.5Z" fill="#000088"/><path d="M344.8 1093.1L382.8 1071.1L382.8 1115.1Z" fill="#000088"/><path d="M342.0 1108.0L380.0 1086.0L380.0 1130.0Z" fill="#000088"/><path d="M339.6 1120.6L377.6 1098.6L377.6 1142.6Z" fill="#000088"/><path d="M337.6 1131.3L375.6 1109.3L375.6 1153.3Z" fill="#000088"/><path d="M335.9 1140.4L373.9 1118.4L373.9 1162.4Z" fill="#000088"/><path d="M334.6 1148.1L372.6 1126.1L372.6 1170.1Z" fill="#000088"/><path d="M333.4 1154.6L371.4 1132.6L371.4 1176.6Z" fill="#000088"/><path d="M332.4 1160.1L370.4 1138.1L370.4 1182.1Z" fill="#000088"/><path d="M331.6 1164.8L369.6 1142.8L369.6 1186.8Z" fill="#000088"/><path d="M330.9 1168.8L368.9 1146.8L368.9 1190.8Z" fill="#000088"/><path d="M330.6 1170.0L368.6 1148.0L368.6 1192.0Z" fill="#000088"/><path d="M330.3 1172.0L368.3 1150.0L368.3 1194.0Z" fill="#000088"/><path d="M1519.9 1042.1L1557.9 1020.1L1557.9 1064.1Z" fill="#000088"/><path d="M1524.6 1061.1L1562.6 1039.1L1562.6 1083.1Z" fill="#000088"/><path d="M1531.7 1077.7L1569.7 1055.7L1569.7 1099.7Z" fill="#000088"/><path d="M1535.3 1091.9L1573.3 1069.9L1573.3 1113.9Z" fill="#000088"/><path d="M1537.7 1104.0L1575.7 1082.0L1575.7 1126.0Z" fill="#000088"/><path d="M1541.2 1113.2L1579.2 1091.2L1579.2 1135.2Z" fill="#000088"/><path d="M1544.5 1120.5L1582.5 1098.5L1582.5 1142.5Z" fill="#000088"/><path d="M1548.0 1127.0L1586.0 1105.0L1586.0 1149.0Z" fill="#000088"/><path d="M1552.0 1132.5L1590.0 1110.5L1590.0 1154.5Z" fill="#000088"/><path d="M1556.0 1137.0L1594.0 1115.0L1594.0 1159.0Z" fill="#000088"/><path d="M1560.2 1141.0L1598.2 1119.0L1598.2 1163.0Z" fill="#000088"/><path d="M1560.2 1141.0L1598.2 1119.0L1598.2 1163.0Z" fill="#000088"/><path d="M1562.6 1139.1L1600.6 1117.1L1600.6 1161.1Z" fill="#000088"/><path d="M1564.9 1137.2L1602.9 1115.2L1602.9 1159.2Z" fill="#000088"/><path d="M1567.3 1135.2L1605.3 1113.2L1605.3 1157.2Z" fill="#000088"/><path d="M1569.6 1133.3L1607.6 1111.3L1607.6 1155.3Z" fill="#000088"/><path d="M1572.0 1131.4L1610.0 1109.4L1610.0 1153.4Z" fill="#000088"/><path d="M1574.3 1129.5L1612.3 1107.5L1612.3 1151.5Z" fill="#000088"/><path d="M1576.7 1127.5L1614.7 1105.5L1614.7 1149.5Z" fill="#000088"/><path d="M1579.0 1125.6L1617.0 1103.6L1617.0 1147.6Z" fill="#000088"/><path d="M1581.4 1123.7L1619.4 1101.7L1619.4 1145.7Z" fill="#000088"/><path d="M1583.7 1121.8L1621.7 1099.8L1621.7 1143.8Z" fill="#000088"/><path d="M1586.1 1119.8L1624.1 1097.8L1624.1 1141.8Z" fill="#000088"/><path d="M1588.4 1117.9L1626.4 1095.9L1626.4 1139.9Z" fill="#000088"/><path d="M1590.8 1116.0L1628.8 1094.0L1628.8 1138.0Z" fill="#000088"/><path d="M1593.2 1114.1L1631.2 1092.1L1631.2 1136.1Z" fill="#000088"/><path d="M1595.5 1112.2L1633.5 1090.2L1633.5 1134.2Z" fill="#000088"/><path d="M1597.9 1110.2L1635.9 1088.2L1635.9 1132.2Z" fill="#000088"/><path d="M1600.2 1108.3L1638.2 1086.3L1638.2 1130.3Z" fill="#000088"/><path d="M1602.6 1106.4L1640.6 1084.4L1640.6 1128.4Z" fill="#000088"/><path d="M1604.9 1104.5L1642.9 1082.5L1642.9 1126.5Z" fill="#000088"/><path d="M1607.3 1102.5L1645.3 1080.5L1645.3 1124.5Z" fill="#000088"/><path d="M1609.6 1100.6L1647.6 1078.6L1647.6 1122.6Z" fill="#000088"/><path d="M1612.0 1098.7L1650.0 1076.7L1650.0 1120.7Z" fill="#000088"/><path d="M1614.3 1096.8L1652.3 1074.8L1652.3 1118.8Z" fill="#000088"/><path d="M1616.7 1094.8L1654.7 1072.8L1654.7 1116.8Z" fill="#000088"/><path d="M1619.0 1092.9L1657.0 1070.9L1657.0 1114.9Z" fill="#000088"/><path d="M1621.4 1091.0L1659.4 1069.0L1659.4 1113.0Z" fill="#000088"/><path d="M1623.8 1089.1L1661.8 1067.1L1661.8 1111.1Z" fill="#000088"/><path d="M1626.1 1087.2L1664.1 1065.2L1664.1 1109.2Z" fill="#000088"/><path d="M1628.5 1085.2L1666.5 1063.2L1666.5 1107.2Z" fill="#000088"/><path d="M1630.8 1083.3L1668.8 1061.3L1668.8 1105.3Z" fill="#000088"/><path d="M1633.2 1081.4L1671.2 1059.4L1671.2 1103.4Z" fill="#000088"/><path d="M1635.5 1079.5L1673.5 1057.5L1673.5 1101.5Z" fill="#000088"/><path d="M1637.9 1077.5L1675.9 1055.5L1675.9 1099.5Z" fill="#000088"/><path d="M1640.2 1075.6L1678.2 1053.6L1678.2 1097.6Z" fill="#000088"/><path d="M1642.6 1073.7L1680.6 1051.7L1680.6 1095.7Z" fill="#000088"/><path d="M1644.9 1071.8L1682.9 1049.8L1682.9 1093.8Z" fill="#000088"/><path d="M1647.3 1069.8L1685.3 1047.8L1685.3 1091.8Z" fill="#000088"/><path d="M1649.6 1067.9L1687.6 1045.9L1687.6 1089.9Z" fill="#000088"/><path d="M1652.0 1066.0L1690.0 1044.0L1690.0 1088.0Z" fill="#000088"/></g>
<polyline fill="none" stroke="#000" stroke-width="3.5" stroke-linejoin="round" points="355.3,1172.0 355.6,1170.5 355.9,1168.7 356.2,1166.6 356.6,1164.3 357.1,1161.8 357.6,1159.1 358.1,1156.2 358.6,1153.1 359.2,1149.9 359.8,1146.7 360.4,1143.4 361.0,1140.0 361.6,1136.5 362.3,1132.6 363.1,1128.5 363.8,1124.3 364.6,1119.9 365.4,1115.4 366.2,1111.0 367.0,1106.6 367.8,1102.4 368.6,1098.3 369.4,1094.5 370.2,1091.0 370.9,1087.8 371.7,1084.8 372.4,1081.9 373.1,1079.3 373.8,1076.7 374.5,1074.3 375.2,1071.9 375.9,1069.5 376.7,1067.2 377.4,1064.9 378.2,1062.5 379.0,1060.0 379.8,1057.5 380.7,1055.0 381.6,1052.6 382.4,1050.1 383.4,1047.7 384.3,1045.3 385.2,1042.9 386.1,1040.5 387.1,1038.0 388.1,1035.6 389.0,1033.2 390.0,1030.8 391.0,1028.4 391.9,1026.0 392.9,1023.6 393.8,1021.2 394.8,1018.8 395.8,1016.4 396.8,1014.0 397.8,1011.6 398.9,1009.2 400.0,1006.8 401.2,1004.3 402.5,1001.8 403.8,999.3 405.2,996.7 406.6,994.1 408.1,991.5 409.6,988.9 411.2,986.3 412.8,983.6 414.4,981.0 416.1,978.4 417.9,975.7 419.7,973.1 421.5,970.5 423.4,967.9 425.3,965.4 427.2,962.9 429.2,960.3 431.3,957.8 433.4,955.3 435.5,952.8 437.7,950.2 440.0,947.6 442.3,945.0 444.6,942.3 447.0,939.6 449.4,936.8 451.9,934.0 454.5,931.0 457.0,928.1 459.7,925.1 462.4,922.1 465.1,919.1 467.9,916.1 470.8,913.1 473.7,910.1 476.7,907.1 479.8,904.2 483.0,901.3 486.2,898.5 489.5,895.6 492.9,892.8 496.3,890.0 499.8,887.2 503.4,884.4 507.0,881.5 510.7,878.6 514.4,875.7 518.1,872.7 521.9,869.7 525.7,866.6 529.4,863.4 533.2,860.2 537.0,856.9 540.8,853.6 544.7,850.3 548.7,847.0 552.8,843.6 557.1,840.3 561.5,836.9 566.1,833.6 571.0,830.3 576.1,827.0 581.5,823.6 587.0,820.2 592.7,816.7 598.6,813.3 604.6,809.8 610.7,806.4 616.8,803.1 623.0,799.9 629.2,796.8 635.4,793.8 641.5,791.0 647.6,788.3 653.8,785.8 660.1,783.4 666.4,781.1 672.7,778.8 679.1,776.7 685.5,774.6 691.8,772.6 698.2,770.6 704.6,768.6 711.0,766.7 717.3,764.8 723.6,762.9 729.9,761.0 736.2,759.2 742.5,757.4 748.8,755.7 755.1,754.0 761.4,752.3 767.7,750.7 774.1,749.2 780.4,747.7 786.7,746.3 793.0,745.0 799.3,743.7 805.5,742.5 811.6,741.3 817.7,740.2 823.9,739.2 830.0,738.2 836.2,737.2 842.5,736.4 848.9,735.5 855.4,734.8 862.1,734.1 869.0,733.5 876.1,733.0 883.5,732.5 891.2,732.1 899.0,731.8 906.9,731.6 914.8,731.4 922.7,731.3 930.6,731.2 938.4,731.1 946.0,731.1 953.4,731.0 960.5,731.0 967.3,731.0 974.0,731.0 980.5,731.0 986.8,731.0 993.1,731.1 999.2,731.2 1005.3,731.4 1011.4,731.6 1017.4,731.8 1023.4,732.2 1029.5,732.5 1035.7,733.0 1041.9,733.5 1048.1,734.1 1054.3,734.7 1060.5,735.4 1066.7,736.1 1072.9,736.9 1079.0,737.8 1085.2,738.7 1091.3,739.7 1097.3,740.7 1103.3,741.8 1109.3,743.0 1115.2,744.3 1121.2,745.6 1127.1,747.1 1133.0,748.6 1138.8,750.2 1144.7,751.9 1150.4,753.6 1156.1,755.3 1161.8,757.1 1167.4,758.8 1172.9,760.6 1178.4,762.3 1183.7,764.0 1189.0,765.8 1194.1,767.5 1199.1,769.3 1204.0,771.0 1209.0,772.8 1213.9,774.7 1218.8,776.5 1223.8,778.4 1228.8,780.4 1234.0,782.4 1239.2,784.5 1244.6,786.6 1250.1,788.8 1255.7,791.1 1261.4,793.4 1267.1,795.7 1272.8,798.1 1278.5,800.5 1284.2,803.0 1289.7,805.4 1295.2,807.9 1300.4,810.4 1305.5,812.9 1310.4,815.4 1315.2,818.0 1320.0,820.6 1324.6,823.2 1329.1,825.8 1333.6,828.5 1337.9,831.1 1342.2,833.8 1346.4,836.5 1350.6,839.1 1354.6,841.8 1358.6,844.5 1362.5,847.2 1366.4,849.9 1370.2,852.7 1374.0,855.5 1377.6,858.3 1381.2,861.1 1384.7,863.9 1388.1,866.6 1391.3,869.3 1394.5,871.9 1397.6,874.4 1400.5,876.9 1403.3,879.2 1405.8,881.5 1408.2,883.7 1410.4,885.7 1412.6,887.8 1414.6,889.8 1416.7,891.8 1418.7,893.8 1420.7,895.8 1422.9,897.9 1425.1,900.0 1427.4,902.2 1429.9,904.5 1432.4,906.7 1435.0,909.0 1437.6,911.3 1440.2,913.7 1442.9,916.1 1445.6,918.4 1448.2,920.8 1450.8,923.3 1453.4,925.7 1455.9,928.1 1458.3,930.6 1460.7,933.1 1463.0,935.6 1465.3,938.2 1467.5,940.7 1469.7,943.3 1471.9,945.9 1474.0,948.5 1476.2,951.1 1478.2,953.7 1480.3,956.3 1482.3,958.9 1484.3,961.5 1486.3,964.0 1488.2,966.6 1490.0,969.0 1491.9,971.5 1493.7,974.0 1495.4,976.5 1497.2,979.0 1498.9,981.5 1500.6,984.1 1502.3,986.8 1504.0,989.5 1505.7,992.3 1507.4,995.2 1509.0,998.1 1510.7,1001.1 1512.3,1004.1 1513.9,1007.2 1515.5,1010.4 1517.1,1013.5 1518.6,1016.8 1520.2,1020.1 1521.7,1023.4 1523.2,1026.8 1524.7,1030.2 1526.2,1033.7 1527.7,1037.4 1529.2,1041.2 1530.7,1045.1 1532.2,1049.0 1533.6,1052.9 1535.0,1056.8 1536.4,1060.7 1537.7,1064.5 1539.0,1068.2 1540.2,1071.9 1541.3,1075.3 1542.3,1078.6 1543.3,1081.8 1544.2,1085.0 1545.0,1088.0 1545.7,1091.0 1546.4,1094.0 1547.1,1096.9 1547.8,1099.7 1548.5,1102.6 1549.2,1105.4 1549.9,1108.1 1550.7,1110.9 1551.5,1113.7 1552.3,1116.5 1553.1,1119.4 1553.9,1122.3 1554.8,1125.1 1555.6,1127.9 1556.4,1130.5 1557.2,1133.1 1558.0,1135.5 1558.8,1137.8 1559.5,1139.9 1560.2,1141.7 1560.9,1143.3 1561.6,1144.8 1562.3,1146.0 1563.0,1147.1 1563.7,1148.1 1564.3,1148.9 1565.0,1149.7 1565.5,1150.3 1566.1,1150.9 1566.6,1151.4 1567.0,1151.9 1567.3,1152.3 1731.7,1022.8"/>
<polyline fill="none" stroke="#000" stroke-width="3.5" stroke-linejoin="round" points="355.3,1172.0 355.4,1168.7 355.6,1165.5 356.0,1162.2 356.5,1159.0 357.2,1155.8 358.1,1152.5 359.0,1149.4 360.2,1146.2 361.5,1143.1 362.9,1140.0 364.5,1136.9 366.2,1133.9 368.1,1131.0 370.1,1128.0 372.2,1125.2 374.5,1122.4 376.9,1119.6 379.4,1116.9 382.1,1114.3 384.8,1111.8 387.7,1109.3 390.7,1106.9 393.9,1104.5 397.1,1102.3 400.4,1100.1 403.8,1098.1 407.4,1096.1 411.0,1094.2 414.7,1092.4 418.5,1090.6 422.4,1089.0 426.3,1087.5 430.3,1086.1 434.4,1084.8 438.5,1083.6 442.7,1082.5 446.9,1081.5 451.2,1080.6 455.6,1079.8 459.9,1079.1 464.3,1078.5 468.7,1078.1 473.1,1077.8 477.6,1077.5 482.0,1077.4 486.5,1077.4 490.9,1077.5 495.4,1077.7 499.8,1078.1 504.2,1078.5 508.6,1079.1 512.9,1079.8 517.3,1080.5 521.6,1081.4 525.8,1082.4 530.0,1083.5 534.1,1084.7 538.2,1086.1 542.2,1087.5 546.2,1089.0 550.0,1090.6 553.8,1092.3 557.5,1094.1 561.1,1096.0 564.7,1098.0 568.1,1100.1 571.4,1102.2 574.7,1104.5 577.8,1106.8 580.8,1109.2 583.7,1111.7 586.5,1114.3 589.1,1116.9 591.7,1119.6 594.1,1122.3 596.3,1125.1 598.5,1128.0 600.5,1130.9 602.4,1133.9 604.1,1136.9 605.7,1139.9 607.1,1143.0 608.4,1146.1 609.5,1149.3 610.5,1152.5 611.4,1155.7 612.1,1158.9 612.6,1162.1 613.0,1165.4 613.3,1170.0 666.0,1128.0"/>
<polyline fill="none" stroke="#000" stroke-width="3.5" stroke-linejoin="round" points="355.3,1172.0 355.4,1169.0 355.6,1166.0 355.9,1163.0 356.4,1160.1 357.0,1157.1 357.8,1154.2 358.6,1151.2 359.7,1148.3 360.8,1145.5 362.1,1142.6 363.5,1139.8 365.0,1137.1 366.7,1134.4 368.5,1131.7 370.4,1129.1 372.4,1126.5 374.6,1124.0 376.8,1121.5 379.2,1119.1 381.7,1116.8 384.3,1114.5 387.0,1112.3 389.7,1110.2 392.6,1108.1 395.6,1106.2 398.7,1104.3 401.8,1102.5 405.0,1100.7 408.3,1099.1 411.7,1097.5 415.2,1096.0 418.7,1094.7 422.3,1093.4 425.9,1092.2 429.6,1091.1 433.3,1090.1 437.1,1089.2 440.9,1088.4 444.7,1087.7 448.6,1087.1 452.5,1086.6 456.5,1086.2 460.4,1086.0 464.3,1085.8 468.3,1085.7 472.3,1085.7 476.2,1085.9 480.1,1086.1 484.1,1086.4 488.0,1086.9 491.9,1087.4 495.7,1088.1 499.6,1088.8 503.4,1089.6 507.1,1090.6 510.8,1091.6 514.5,1092.8 518.1,1094.0 521.7,1095.3 525.1,1096.8 528.6,1098.3 531.9,1099.9 535.2,1101.6 538.4,1103.3 541.5,1105.2 544.5,1107.1 547.4,1109.1 550.2,1111.2 553.0,1113.4 555.6,1115.6 558.1,1117.9 560.6,1120.3 562.9,1122.7 565.1,1125.2 567.2,1127.8 569.1,1130.4 571.0,1133.0 572.7,1135.7 574.3,1138.4 575.8,1141.2 577.1,1144.0 578.4,1146.9 579.5,1149.8 580.4,1152.7 581.2,1155.6 581.9,1158.5 582.5,1161.5 582.9,1164.5 583.1,1167.5 584.0,1170.0 624.5,1141.0"/>
<polyline fill="none" stroke="#000" stroke-width="2.8" stroke-linejoin="round" points="355.3,1172.0 355.4,1170.4 355.5,1168.7 355.8,1167.1 356.2,1165.5 356.7,1163.9 357.4,1162.4 358.1,1160.8 359.0,1159.3 359.9,1157.9 361.0,1156.4 362.2,1155.0 363.4,1153.7 364.8,1152.4 366.2,1151.2 367.7,1150.0 369.3,1148.9 371.0,1147.8 372.8,1146.8 374.6,1145.9 376.5,1145.1 378.5,1144.3 380.5,1143.6 382.5,1143.0 384.6,1142.4 386.7,1142.0 388.9,1141.6 391.1,1141.3 393.3,1141.1 395.5,1141.0 397.7,1141.0 399.9,1141.1 402.1,1141.2 404.3,1141.4 406.4,1141.7 408.6,1142.1 410.7,1142.6 412.8,1143.2 414.8,1143.8 416.8,1144.5 418.7,1145.3 420.6,1146.2 422.4,1147.1 424.1,1148.2 425.8,1149.2 427.4,1150.4 428.9,1151.6 430.3,1152.8 431.6,1154.1 432.9,1155.5 434.0,1156.9 435.0,1158.3 435.9,1159.8 436.7,1161.3 437.4,1162.9 438.0,1164.5 438.5,1166.1 438.9,1167.7 439.1,1169.3 439.3,1170.9 439.2,1172.0 458.0,1154.0"/>
<polyline fill="none" stroke="#000" stroke-width="2.6" stroke-linejoin="round" points="355.0,1172.0 355.0,1171.2 355.2,1170.4 355.4,1169.5 355.7,1168.7 356.0,1167.9 356.5,1167.2 357.0,1166.4 357.6,1165.7 358.3,1165.0 359.1,1164.3 359.9,1163.7 360.8,1163.0 361.7,1162.5 362.7,1161.9 363.8,1161.4 364.9,1161.0 366.1,1160.5 367.3,1160.2 368.5,1159.9 369.7,1159.6 371.0,1159.4 372.3,1159.2 373.6,1159.1 375.0,1159.0 376.3,1159.0 377.6,1159.0 379.0,1159.1 380.3,1159.3 381.6,1159.5 382.8,1159.7 384.1,1160.0 385.3,1160.3 386.5,1160.7 387.6,1161.2 388.7,1161.6 389.7,1162.2 390.7,1162.7 391.6,1163.3 392.5,1163.9 393.3,1164.6 394.0,1165.3 394.6,1166.0 395.2,1166.8 395.7,1167.5 396.1,1168.3 396.5,1169.1 396.7,1169.9 396.9,1170.7 397.0,1171.5 397.0,1171.0 410.0,1158.0"/>
<polyline fill="none" stroke="#000" stroke-width="2.4" stroke-linejoin="round" points="355.0,1172.0 355.0,1171.1 355.2,1170.3 355.4,1169.4 355.8,1168.6 356.2,1167.7 356.7,1166.9 357.3,1166.2 357.9,1165.5 358.7,1164.8 359.5,1164.1 360.4,1163.5 361.3,1163.0 362.3,1162.5 363.4,1162.1 364.5,1161.8 365.6,1161.5 366.8,1161.3 368.0,1161.1 369.1,1161.0 370.3,1161.0 371.5,1161.1 372.7,1161.2 373.9,1161.4 375.0,1161.6 376.1,1162.0 377.2,1162.3 378.2,1162.8 379.2,1163.3 380.1,1163.9 381.0,1164.5 381.7,1165.2 382.4,1165.9 383.1,1166.6 383.6,1167.4 384.1,1168.2 384.4,1169.0 384.7,1169.9 384.9,1170.7 385.0,1171.6 385.0,1171.0 395.0,1161.0"/>
</g>
<rect x="352" y="48" width="1525.5" height="1126" fill="none" stroke="#000" stroke-width="4"/>
<path d="M326 1172.2H352M338.5 1084.4H352M326 996.5H352M338.5 908.7H352M326 820.8H352M338.5 733.0H352M326 645.1H352M338.5 557.3H352M326 469.4H352M338.5 381.6H352M326 293.7H352M338.5 205.9H352M326 118.0H352M355.3 1174V1200.5M474.2 1174V1188.5M593.1 1174V1200.5M712.0 1174V1188.5M830.9 1174V1200.5M949.8 1174V1188.5M1068.7 1174V1200.5M1187.6 1174V1188.5M1306.5 1174V1200.5M1425.4 1174V1188.5M1544.3 1174V1200.5M1663.2 1174V1188.5M1782.1 1174V1200.5" stroke="#000" stroke-width="4.2" fill="none"/>
<g font-family="'Liberation Sans',Arial,sans-serif" font-weight="bold" font-size="43.5" fill="#000">
<text x="302" y="115.4" text-anchor="end">-3.0x10</text><text transform="translate(302.3,91.4) scale(0.86,1)" font-size="26">8</text>
<text x="302" y="291.1" text-anchor="end">-2.5x10</text><text transform="translate(302.3,267.1) scale(0.86,1)" font-size="26">8</text>
<text x="302" y="466.8" text-anchor="end">-2.0x10</text><text transform="translate(302.3,442.8) scale(0.86,1)" font-size="26">8</text>
<text x="302" y="642.5" text-anchor="end">-1.5x10</text><text transform="translate(302.3,618.5) scale(0.86,1)" font-size="26">8</text>
<text x="302" y="818.2" text-anchor="end">-1.0x10</text><text transform="translate(302.3,794.2) scale(0.86,1)" font-size="26">8</text>
<text x="302" y="993.9" text-anchor="end">-5.0x10</text><text transform="translate(302.3,969.9) scale(0.86,1)" font-size="26">7</text>
<text x="315" y="1159.5" text-anchor="end">0.0</text>
<text x="356.5" y="1233.5" text-anchor="middle">0.0</text>
<text x="652.9" y="1242.6" text-anchor="end">5.0x10</text><text transform="translate(653.4,1218) scale(0.86,1)" font-size="26">7</text>
<text x="890.7" y="1242.6" text-anchor="end">1.0x10</text><text transform="translate(891.2,1218) scale(0.86,1)" font-size="26">8</text>
<text x="1128.5" y="1242.6" text-anchor="end">1.5x10</text><text transform="translate(1129.0,1218) scale(0.86,1)" font-size="26">8</text>
<text x="1366.3" y="1242.6" text-anchor="end">2.0x10</text><text transform="translate(1366.8,1218) scale(0.86,1)" font-size="26">8</text>
<text x="1604.1" y="1242.6" text-anchor="end">2.5x10</text><text transform="translate(1604.6,1218) scale(0.86,1)" font-size="26">8</text>
<text x="1841.9" y="1242.6" text-anchor="end">3.0x10</text><text transform="translate(1842.4,1218) scale(0.86,1)" font-size="26">8</text>
</g>
<text x="1145.8" y="1338" text-anchor="middle" font-family="'Liberation Sans',Arial,sans-serif" font-weight="bold" font-size="69" fill="#000">Z' (ohm)</text>
<text transform="translate(93,521.5) rotate(-90)" text-anchor="middle" font-family="'Liberation Sans',Arial,sans-serif" font-weight="bold" font-size="70" fill="#000">Z'' (ohm)</text>
<rect x="748.7" y="842.7" width="34" height="34" fill="#000"/>
<circle cx="1080.6" cy="859.9" r="19.2" fill="#f00"/>
<path d="M743.0 953.7L788.5 953.7L765.7 914.7Z" fill="#00f"/>
<path d="M1058.3 926.7L1103.3 926.7L1080.8 965.7Z" fill="#f0f"/>
<path d="M742.0 1020.0L765.5 997.0L789.0 1020.0L765.5 1043.0Z" fill="#008000"/>
<path d="M1055.0 1020.0L1094.4 997.8L1094.4 1042.2Z" fill="#000088"/>
<g font-family="'Liberation Sans',Arial,sans-serif" font-size="65" fill="#000">
<text x="857" y="882">0%</text>
<text x="857" y="962">4%</text>
<text x="857" y="1042">8%</text>
<text x="1170.5" y="882">2%</text>
<text x="1170.5" y="962">6%</text>
<text x="1173" y="1042">10%</text>
</g>
<path d="M853 1110.5H1015" stroke="#000" stroke-width="3.6"/>
<text x="1028.5" y="1126.5" font-family="'Liberation Sans',Arial,sans-serif" font-weight="bold" font-size="48" fill="#000">Simulated</text>
<g stroke="#333" stroke-width="7.5" fill="none">
<path d="M881.5 279L1801 276"/>
<path d="M959.4 279V486.1H1311.6M1387.8 486.1H1716.2V276.3"/>
<path d="M1311.6 438.2V541.5M1387.8 438.2V541.5" stroke-width="8"/>
<rect x="1082.8" y="227.6" width="256.4" height="103" fill="#fff"/>
<circle cx="1545" cy="275.4" r="77.5" fill="#eee"/>
</g>
<g font-family="'Liberation Serif','Times New Roman',serif" font-style="italic" fill="#2a2a2a">
<text transform="translate(1172,194) scale(1.09,1)" font-size="86" font-weight="bold">R</text><text x="1237" y="211" font-size="42">ct</text>
<text transform="translate(1496,298.5) scale(1.035,1)" font-size="86" font-weight="bold">W</text><text x="1573" y="313.7" font-size="44">i</text>
<text x="1317" y="606" font-size="88" font-weight="bold">C</text><text transform="translate(1377,623) scale(1.07,1)" font-size="47">ES</text>
</g>
</g>
</svg></body></html>
